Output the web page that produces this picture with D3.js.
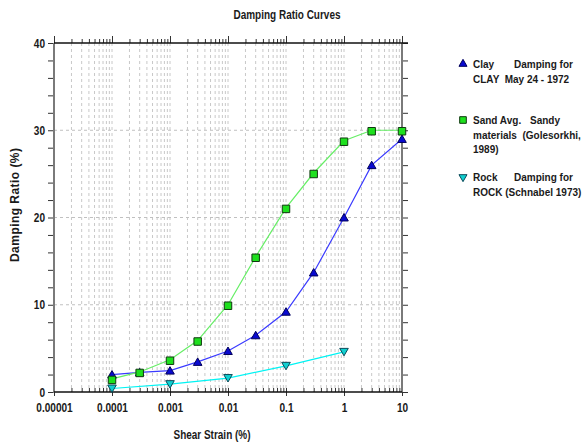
<!DOCTYPE html>
<html>
<head>
<meta charset="utf-8">
<script src="https://cdn.jsdelivr.net/npm/d3@7"></script>
<style>
  body { margin: 0; background: #fff; }
  text { font-family: "Liberation Sans", Arial, sans-serif; font-weight: bold; fill: #1a1a1a; }
</style>
</head>
<body>
<div id="chart"></div>
<script>
// valores
const clayStrain = [0.0001, 0.0003, 0.001, 0.003, 0.01, 0.03, 0.1, 0.3, 1, 3, 10];
const clayDamping = [2.0, 2.25, 2.45, 3.45, 4.7, 6.5, 9.2, 13.7, 20.0, 26.0, 29.0];
const sandStrain = [0.0001, 0.0003, 0.001, 0.003, 0.01, 0.03, 0.1, 0.3, 1, 3, 10];
const sandDamping = [1.5, 2.3, 3.7, 5.9, 10.0, 15.5, 21.1, 25.1, 28.8, 30.0, 30.0];
const rockStrain = [0.0001, 0.001, 0.01, 0.1, 1];
const rockDamping = [0.4, 0.9, 1.6, 3.0, 4.6];

const xMajorTicks = [0.00001, 0.0001, 0.001, 0.01, 0.1, 1, 10];
const xTickLabels = ['0.00001', '0.0001', '0.001', '0.01', '0.1', '1', '10'];
const yMajorTicks = [0, 10, 20, 30, 40];
const yMinorTicks = [0, 2, 4, 6, 8, 10, 12, 14, 16, 18, 20, 22, 24, 26, 28, 30, 32, 34, 36, 38, 40];

const legendLines = [
  [['Clay', 'Damping for'], ['CLAY  May 24 - 1972']],
  [['Sand Avg.', 'Sandy'], ['materials  (Golesorkhi,'], ['1989)']],
  [['Rock', 'Damping for'], ['ROCK (Schnabel 1973)']]
];

const series = [
  { strain: clayStrain, damping: clayDamping, line: '#3a3aff', fill: '#0a0ad0', stroke: '#00005a', symbol: d3.symbolTriangle, rot: 0 },
  { strain: sandStrain, damping: sandDamping, line: '#66ee66', fill: '#1ee01e', stroke: '#103810', symbol: d3.symbolSquare, rot: 0 },
  { strain: rockStrain, damping: rockDamping, line: '#00f4f4', fill: '#10d0d0', stroke: '#0a4a5a', symbol: d3.symbolTriangle, rot: 180 }
];

const width = 583, height = 444;
const svg = d3.select('#chart').append('svg').attr('width', width).attr('height', height);

const x = d3.scaleLog().domain([0.00001, 10]).range([54, 402]);
const y = d3.scaleLinear().domain([0, 40]).range([392, 43]);

// el texto original es estrecho (tipo Arial Narrow)
const condense = (sel, f) => sel.each(function () {
  const w = this.getComputedTextLength();
  d3.select(this).attr('textLength', w * f).attr('lengthAdjust', 'spacingAndGlyphs');
});

// todas las posiciones de ticks menores del eje log
const xMinorTicks = [];
xMajorTicks.slice(0, -1).forEach(d => {
  for (let k = 1; k <= 9; k++) xMinorTicks.push(d * k);
});
xMinorTicks.push(10);
const xOnlyMinor = xMinorTicks.filter(d => !xMajorTicks.includes(d));

// grid
const grid = svg.append('g').attr('class', 'grid');
grid.selectAll('line.v').data(xMinorTicks.filter(d => d > 0.00001 * 1.01 && d < 9.9))
  .enter().append('line')
  .attr('x1', d => x(d)).attr('x2', d => x(d))
  .attr('y1', y(40)).attr('y2', y(0))
  .attr('stroke', '#c8c8c8').attr('stroke-dasharray', '3,3').attr('stroke-width', 1);
grid.selectAll('line.h').data([10, 20, 30])
  .enter().append('line')
  .attr('x1', x(0.00001)).attr('x2', x(10))
  .attr('y1', d => y(d)).attr('y2', d => y(d))
  .attr('stroke', '#c0c0c0').attr('stroke-dasharray', '3,3').attr('stroke-width', 1);

// ejes
const tickNone = () => '';
const styleAxis = (g, color) => {
  g.select('.domain').remove();
  g.selectAll('.tick line').attr('stroke', color).attr('stroke-width', 1);
  g.selectAll('.tick text').attr('font-size', 12).attr('fill', '#1a1a1a');
};

// izquierda
svg.append('g').attr('transform', `translate(${x(0.00001)},0)`)
  .call(d3.axisLeft(y).tickValues(yMinorTicks).tickSize(6).tickFormat(tickNone))
  .call(g => styleAxis(g, '#333'));
const yLabels = svg.append('g').attr('transform', `translate(${x(0.00001) - 1},0)`)
  .call(d3.axisLeft(y).tickValues(yMajorTicks).tickSize(0).tickPadding(8).tickFormat(d3.format('d')))
  .call(g => styleAxis(g, '#333'));
yLabels.selectAll('text').attr('dy', '0.35em');

// derecha
svg.append('g').attr('transform', `translate(${x(10)},0)`)
  .call(d3.axisRight(y).tickValues(yMinorTicks).tickSize(6).tickFormat(tickNone))
  .call(g => styleAxis(g, '#333'));

// arriba
svg.append('g').attr('transform', `translate(0,${y(40)})`)
  .call(d3.axisTop(x).tickValues(xOnlyMinor).tickSize(4).tickFormat(tickNone))
  .call(g => styleAxis(g, '#333'));
svg.append('g').attr('transform', `translate(0,${y(40)})`)
  .call(d3.axisTop(x).tickValues(xMajorTicks).tickSize(7).tickFormat(tickNone))
  .call(g => styleAxis(g, '#333'));

// abajo
svg.append('g').attr('transform', `translate(0,${y(0)})`)
  .call(d3.axisTop(x).tickValues(xOnlyMinor).tickSize(4).tickFormat(tickNone))
  .call(g => styleAxis(g, '#333'));
const xLabels = svg.append('g').attr('transform', `translate(0,${y(0) - 4})`)
  .call(d3.axisBottom(x).tickValues(xMajorTicks).tickSize(8).tickPadding(7)
    .tickFormat((d, i) => xTickLabels[i]))
  .call(g => styleAxis(g, '#333'));

condense(yLabels.selectAll('text'), 0.84);
condense(xLabels.selectAll('text'), 0.84);

// marco
svg.append('line').attr('x1', x(0.00001)).attr('x2', x(0.00001)).attr('y1', y(40)).attr('y2', y(0) + 1)
  .attr('stroke', '#7a7a7a').attr('stroke-width', 2);
svg.append('line').attr('x1', x(10)).attr('x2', x(10)).attr('y1', y(40)).attr('y2', y(0))
  .attr('stroke', '#7a7a7a').attr('stroke-width', 2);
svg.append('line').attr('x1', x(0.00001)).attr('x2', x(10) + 6).attr('y1', y(40)).attr('y2', y(40))
  .attr('stroke', '#111').attr('stroke-width', 1.5);
svg.append('line').attr('x1', x(0.00001)).attr('x2', x(10)).attr('y1', y(0)).attr('y2', y(0))
  .attr('stroke', '#111').attr('stroke-width', 1.5);

// series
const line = d3.line().x(d => x(d[0])).y(d => y(d[1]));
series.forEach(s => {
  const pts = s.strain.map((d, i) => [d, s.damping[i]]);
  svg.append('path').datum(pts)
    .attr('d', line).attr('fill', 'none')
    .attr('stroke', s.line).attr('stroke-width', 1.2);
});
series.forEach(s => {
  const pts = s.strain.map((d, i) => [d, s.damping[i]]);
  const sym = d3.symbol().type(s.symbol).size(s.symbol === d3.symbolSquare ? 56 : 32);
  svg.append('g').selectAll('path').data(pts).enter().append('path')
    .attr('d', sym)
    .attr('transform', d => `translate(${x(d[0])},${y(d[1]) + (s.rot ? -1 : 1)}) rotate(${s.rot})`)
    .attr('fill', s.fill).attr('stroke', s.stroke).attr('stroke-width', 1);
});

// titulos
svg.append('text').attr('x', 287).attr('y', 19).attr('text-anchor', 'middle')
  .attr('font-size', 12).attr('textLength', 107).attr('lengthAdjust', 'spacingAndGlyphs')
  .text('Damping Ratio Curves');
svg.append('text').attr('x', 212).attr('y', 439).attr('text-anchor', 'middle')
  .attr('font-size', 12).attr('textLength', 77).attr('lengthAdjust', 'spacingAndGlyphs')
  .text('Shear Strain (%)');
svg.append('text').attr('transform', 'translate(19,205) rotate(-90)').attr('text-anchor', 'middle')
  .attr('font-size', 12).attr('textLength', 114).attr('lengthAdjust', 'spacing')
  .text('Damping Ratio (%)');

// leyenda
const legendTop = [64, 120, 177];
const lineGap = 14.5;
legendLines.forEach((lines, i) => {
  const s = series[i];
  const sym = d3.symbol().type(s.symbol).size(s.symbol === d3.symbolSquare ? 44 : 28);
  const g = svg.append('g').attr('transform', `translate(0,${legendTop[i]})`);
  g.append('path').attr('d', sym)
    .attr('transform', `translate(463,0) rotate(${s.rot})`)
    .attr('fill', s.fill).attr('stroke', s.stroke).attr('stroke-width', 1);
  lines.forEach((parts, j) => {
    g.append('text').attr('x', 473).attr('y', j * lineGap + 4)
      .attr('font-size', 10).style('white-space', 'pre').text(parts[0]);
    if (parts[1]) {
      g.append('text').attr('x', i === 1 ? 530 : 514).attr('y', j * lineGap + 4)
        .attr('font-size', 10).text(parts[1]);
    }
  });
});
</script>
</body>
</html>
